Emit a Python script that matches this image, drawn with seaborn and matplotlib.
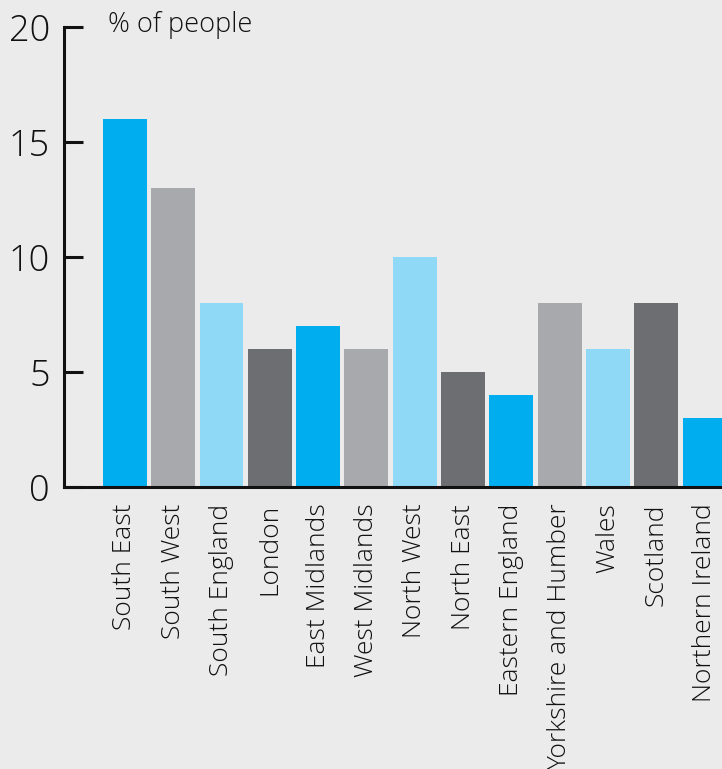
import matplotlib
matplotlib.use("Agg")
import matplotlib.pyplot as plt
import seaborn as sns
import pandas as pd

categories = ["South East", "South West", "South England", "London", "East Midlands",
              "West Midlands", "North West", "North East", "Eastern England",
              "Yorkshire and Humber", "Wales", "Scotland", "Northern Ireland"]
values = [16, 13, 8, 6, 7, 6, 10, 5, 4, 8, 6, 8, 3]
yticks = [0, 5, 10, 15, 20]
ylabel = "% of people"

base_colors = ["#00AEEF", "#A7A9AC", "#8FD9F7", "#6D6E71"]
palette = [base_colors[i % 4] for i in range(len(categories))]

sns.set_style("white")
plt.rcParams['font.family'] = ['Open Sans', 'DejaVu Sans']

bg = "#EBEBEB"
fig = plt.figure(figsize=(7.22, 7.69), dpi=100, facecolor=bg)
W, H = 722, 769
left, right, top, bottom = 64, 722, 27, 487
ax = fig.add_axes([left / W, 1 - bottom / H, (right - left) / W, (bottom - top) / H])
ax.set_facecolor(bg)

df = pd.DataFrame({"region": categories, "value": values})
sns.barplot(data=df, x="region", y="value", hue="region", palette=palette,
            width=0.91, saturation=1, legend=False, ax=ax, linewidth=0)

ax.set_ylim(0, 20)
ax.set_xlim(-1.26, 12.36)
ax.set_yticks(yticks)
ax.set_yticklabels([str(t) for t in yticks], fontsize=26, color="#111111", fontweight="light")
ax.tick_params(axis="y", left=True, direction="in", length=13.5, width=2.2, color="#111111", pad=10)
ax.tick_params(axis="x", bottom=False, length=0, pad=12)
ax.set_xticks(range(len(categories)))
ax.set_xticklabels(categories, rotation=90, fontsize=19, color="#111111", fontweight="light")
ax.set_xlabel("")
ax.set_ylabel("")
for s in ["top", "right"]:
    ax.spines[s].set_visible(False)
for s in ["left", "bottom"]:
    ax.spines[s].set_linewidth(2.2)
    ax.spines[s].set_color("#111111")

fig.text(108 / W, 1 - 25 / H, ylabel, fontsize=19.5, va="center", ha="left", color="#111111",
         fontweight="light")

fig.savefig("out.png", dpi=100, facecolor=bg)
